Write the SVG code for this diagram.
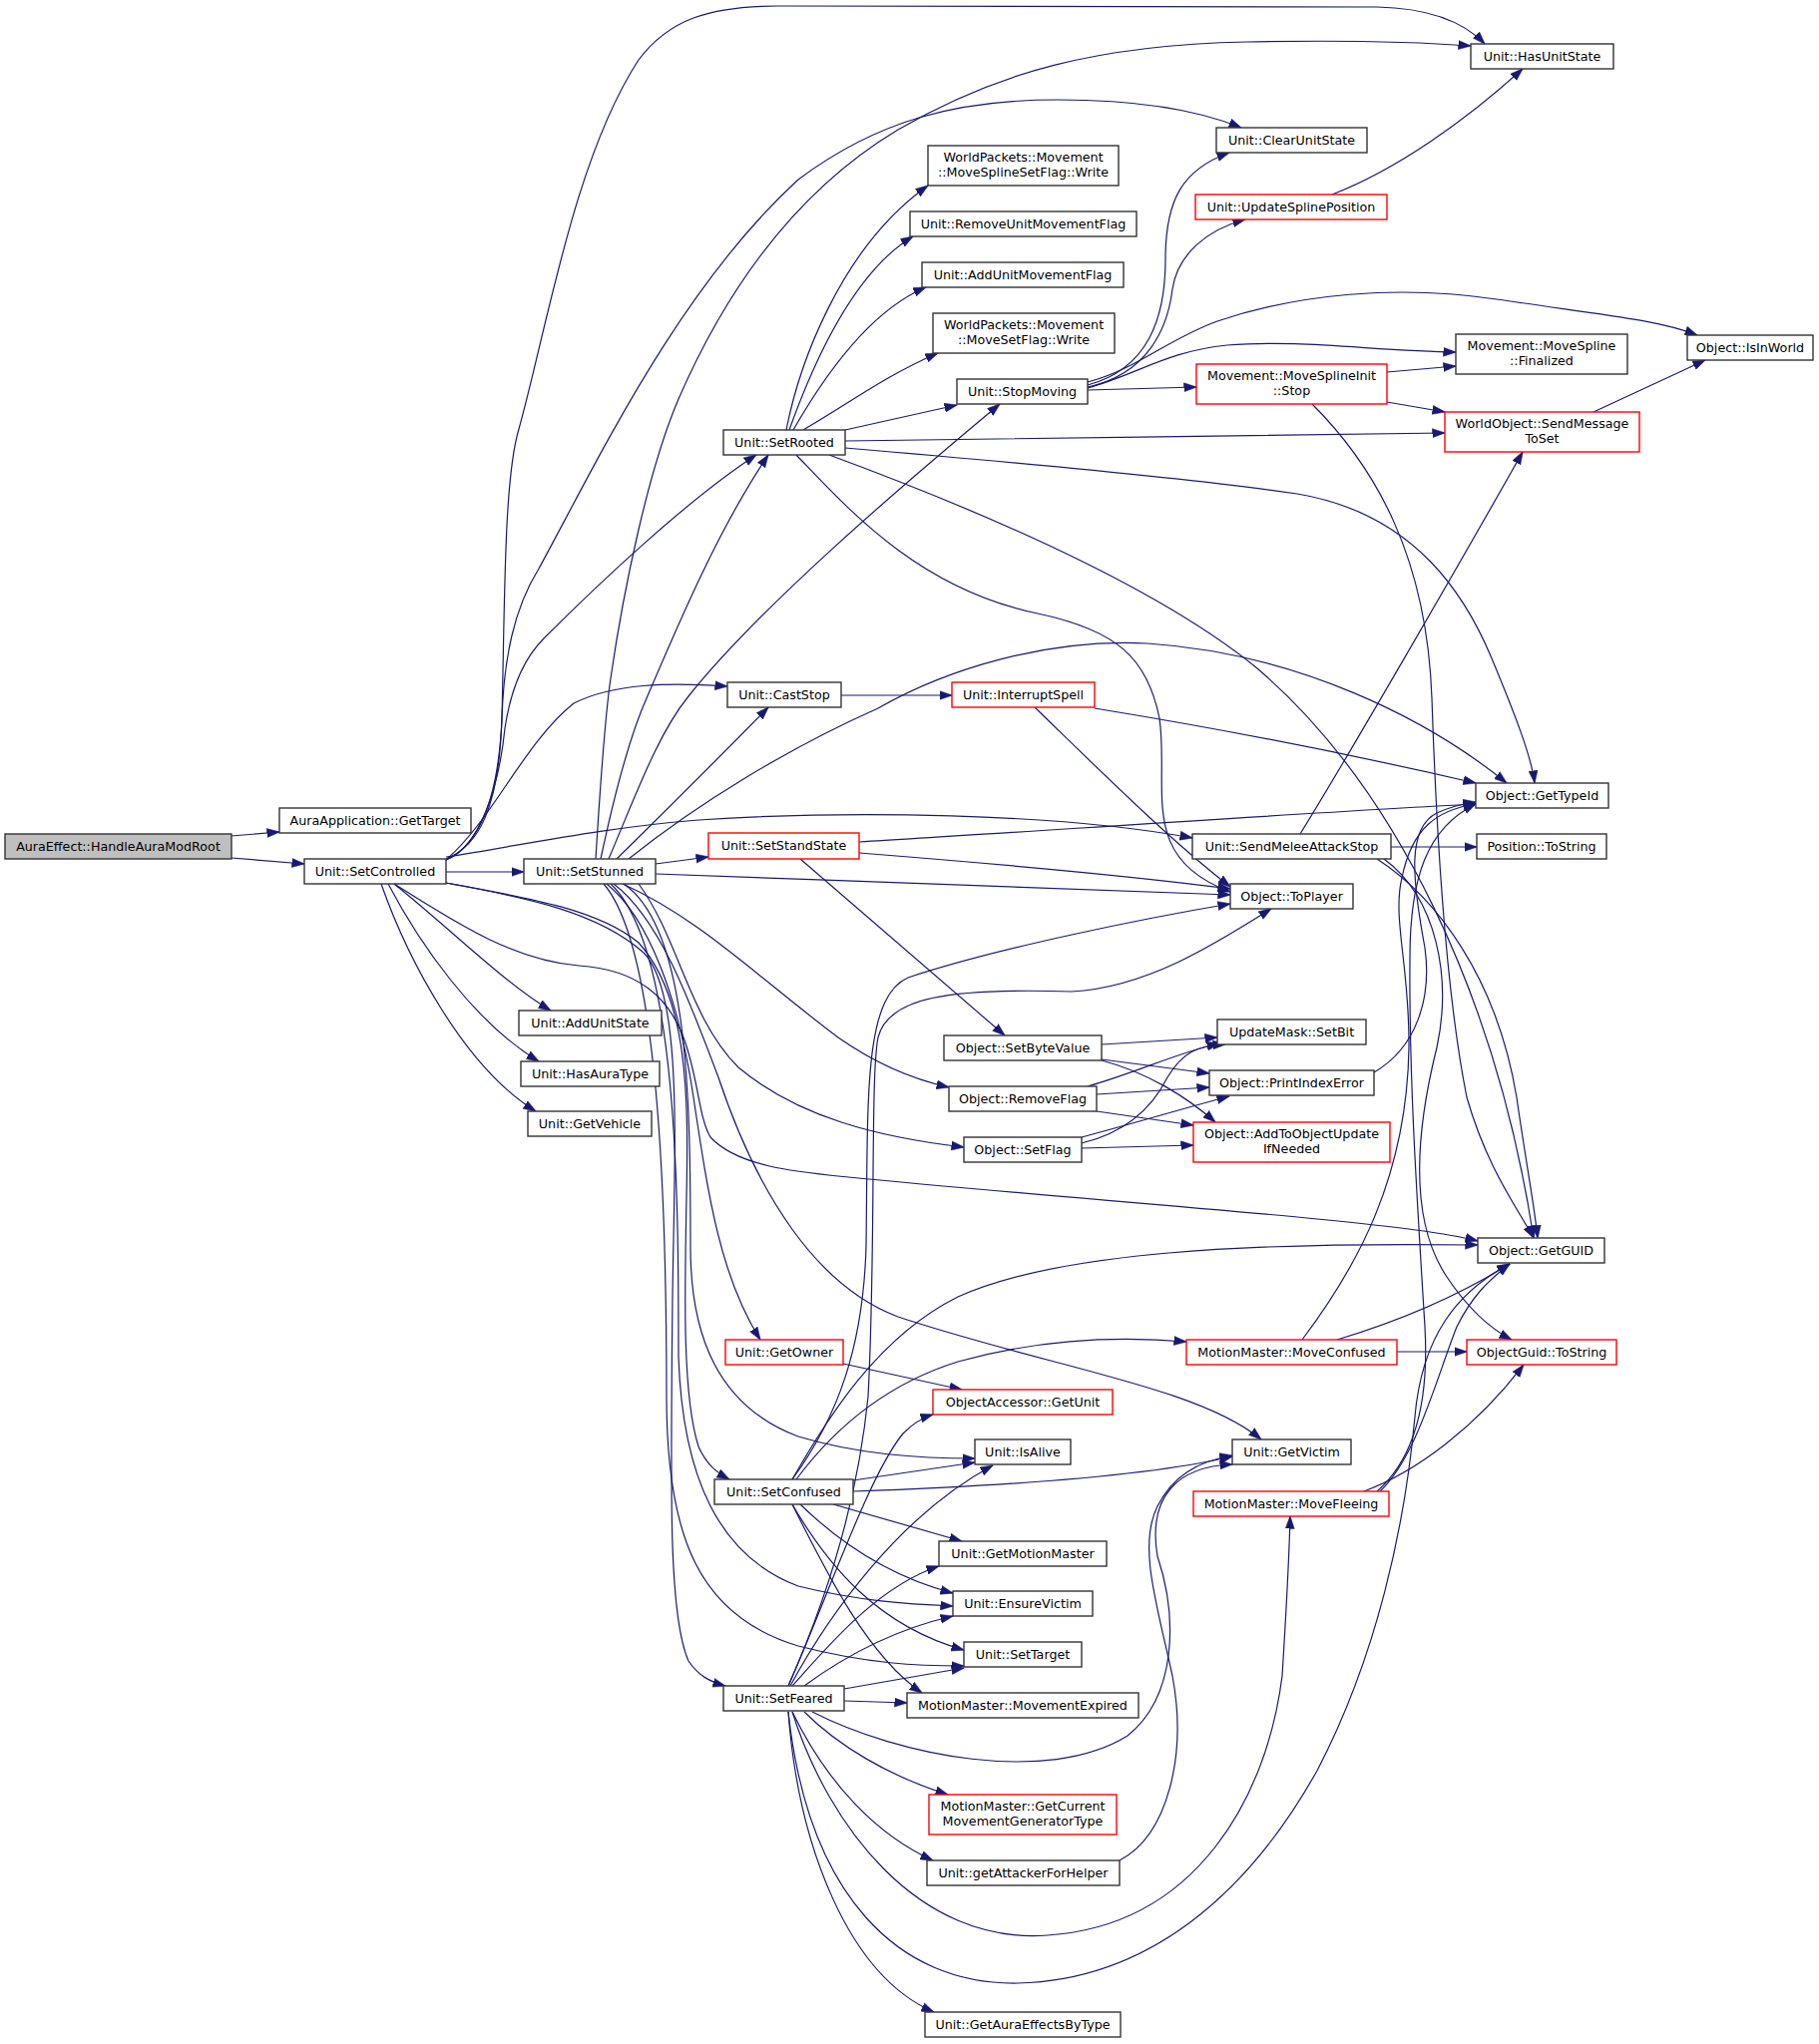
<svg xmlns="http://www.w3.org/2000/svg" width="1823" height="2049" viewBox="0 0 1823 2049">
<defs>
<marker id="a" markerUnits="userSpaceOnUse" markerWidth="13" markerHeight="10" viewBox="0 0 13 10" refX="12.5" refY="5" orient="auto"><path d="M0,0.5 L13,5 L0,9.5 z" fill="#191970" stroke="#191970" stroke-width="0.5"/></marker>
<style>
.n rect{fill:#ffffff;stroke:#333333;stroke-width:1.4}
.r rect{fill:#ffffff;stroke:#ff0000;stroke-width:1.4}
.g rect{fill:#bfbfbf;stroke:#333333;stroke-width:1.4}
text{font-family:"DejaVu Sans","Liberation Sans",sans-serif;font-size:12.7px;text-anchor:middle;fill:#000000}
#edges path{fill:none;stroke:#191970;stroke-width:1.2;marker-end:url(#a)}
</style>
</defs>
<rect x="0" y="0" width="1823" height="2049" fill="#ffffff"/>
<g id="edges">
<path d="M232,838 L280,834"/>
<path d="M232,860 L305,866"/>
<path d="M447,874 L525,874"/>
<path d="M395,886 C450,930 505,985 552,1013"/>
<path d="M389,886 C420,945 475,1025 540,1064"/>
<path d="M382,886 C408,960 465,1070 537,1114"/>
<path d="M447,861 C480,848 500,810 503,720 C506,600 505,480 520,430 C548,330 575,160 640,60 C670,20 710,6 780,6 L1380,7 C1430,8 1465,20 1488,44"/>
<path d="M447,862 C485,845 500,790 503,720 C505,660 515,610 540,570 C600,460 680,290 800,180 C880,120 960,100 1060,100 C1130,100 1195,108 1244,128"/>
<path d="M447,862 C480,850 500,790 506,730 C512,690 525,660 545,640 C600,585 690,500 758,456"/>
<path d="M447,862 C495,820 525,745 575,705 C615,685 670,684 729,688"/>
<path d="M447,859 C520,848 600,830 700,822 C850,812 1060,815 1195,840"/>
<path d="M447,885 C530,900 600,912 640,945 C690,1000 690,1100 688,1200 C686,1300 684,1400 700,1450 C708,1468 718,1476 731,1483"/>
<path d="M447,885 C530,900 600,915 645,955 C685,995 676,1150 674,1300 C672,1500 670,1620 690,1665 C700,1680 712,1686 727,1690"/>
<path d="M395,886 C450,920 510,962 580,968 C640,972 670,1000 685,1040 C700,1080 700,1120 712,1140 C740,1170 800,1175 850,1180 C1000,1195 1200,1210 1320,1222 C1400,1230 1450,1236 1481,1244"/>
<path d="M597,861 C602,780 606,720 612,680 C625,590 650,470 680,400 C730,285 800,190 900,130 C1000,72 1100,45 1250,42 C1350,40 1420,42 1474,46"/>
<path d="M602,861 C615,800 630,740 648,700 C680,625 720,530 770,456"/>
<path d="M610,861 C640,790 660,735 690,698 C760,610 900,490 1002,405"/>
<path d="M618,861 C670,810 720,760 770,709"/>
<path d="M630,861 C700,805 790,750 880,710 C950,670 1050,640 1150,645 C1300,655 1430,720 1510,785"/>
<path d="M657,866 L710,859"/>
<path d="M657,876 C850,883 1050,890 1233,897"/>
<path d="M624,886 C700,920 760,980 840,1040 C880,1068 915,1082 951,1090"/>
<path d="M640,886 C680,940 690,1020 740,1070 C800,1120 880,1140 966,1150"/>
<path d="M608,886 C650,920 680,1000 695,1100 C710,1200 722,1280 762,1343"/>
<path d="M625,886 C690,930 692,1100 692,1250 C692,1340 720,1410 800,1440 C860,1458 920,1462 977,1462"/>
<path d="M612,886 C680,950 680,1200 680,1360 C684,1480 720,1560 800,1590 C860,1605 910,1608 955,1610"/>
<path d="M605,886 C660,950 668,1200 668,1400 C668,1540 700,1620 800,1650 C870,1668 920,1670 966,1670"/>
<path d="M615,886 C660,920 690,1000 720,1080 C760,1200 820,1290 900,1320 C1050,1370 1200,1390 1264,1443"/>
<path d="M788,431 C800,370 840,250 930,186"/>
<path d="M791,431 C820,350 860,270 915,237"/>
<path d="M795,431 C830,370 875,310 928,288"/>
<path d="M805,431 C850,405 890,375 940,354"/>
<path d="M847,431 L959,406"/>
<path d="M847,442 C1000,440 1300,436 1448,434"/>
<path d="M847,449 C1000,462 1200,480 1300,495 C1420,515 1470,600 1495,660 C1520,720 1535,760 1538,785"/>
<path d="M798,456 C850,510 920,590 1040,615 C1120,632 1150,660 1162,720 C1172,790 1140,860 1233,894"/>
<path d="M831,456 C950,500 1150,580 1260,670 C1400,790 1500,1000 1537,1241"/>
<path d="M1090,386 C1150,370 1168,320 1168,260 C1168,200 1185,170 1232,153"/>
<path d="M1090,388 C1150,375 1170,330 1175,290 C1180,255 1210,230 1248,220"/>
<path d="M1090,383 C1140,370 1170,340 1220,322 C1300,295 1400,285 1500,300 C1600,315 1660,320 1701,336"/>
<path d="M1090,389 C1140,375 1170,352 1230,346 C1300,340 1380,352 1459,353"/>
<path d="M1090,391 L1199,388"/>
<path d="M1390,373 L1459,367"/>
<path d="M1390,403 L1448,413"/>
<path d="M1315,405 C1380,470 1430,560 1435,700 C1440,850 1450,1000 1470,1100 C1490,1170 1520,1210 1537,1241"/>
<path d="M1335,195 C1400,170 1470,120 1526,69"/>
<path d="M1597,413 L1709,361"/>
<path d="M843,697 L954,697"/>
<path d="M1097,710 C1250,735 1380,762 1479,785"/>
<path d="M1037,709 C1100,770 1170,840 1233,889"/>
<path d="M861,844 C1000,836 1300,815 1479,806"/>
<path d="M861,855 C1000,866 1150,880 1233,891"/>
<path d="M802,861 L1007,1038"/>
<path d="M1394,849 L1480,849"/>
<path d="M1303,836 C1350,760 1460,570 1526,453"/>
<path d="M1380,861 C1440,900 1500,980 1520,1100 C1530,1170 1538,1210 1541,1241"/>
<path d="M1387,861 C1440,900 1455,980 1440,1050 C1420,1130 1410,1220 1450,1280 C1470,1310 1490,1330 1515,1343"/>
<path d="M1104,1047 L1220,1040"/>
<path d="M1104,1062 L1212,1076"/>
<path d="M1104,1063 C1150,1075 1190,1100 1218,1125"/>
<path d="M1090,1089 C1140,1075 1180,1055 1222,1046"/>
<path d="M1099,1097 L1212,1090"/>
<path d="M1099,1114 L1196,1128"/>
<path d="M1084,1146 C1130,1135 1155,1110 1170,1080 C1185,1055 1200,1048 1228,1047"/>
<path d="M1084,1140 C1140,1125 1190,1110 1232,1099"/>
<path d="M1084,1151 L1196,1148"/>
<path d="M1377,1075 C1420,1050 1435,1000 1428,950 C1415,880 1410,830 1440,815 C1455,808 1465,806 1479,804"/>
<path d="M845,1367 L964,1393"/>
<path d="M794,1508 C830,1570 880,1630 966,1654"/>
<path d="M835,1508 L964,1545"/>
<path d="M798,1483 C830,1440 880,1390 960,1365 C1050,1340 1130,1340 1189,1345"/>
<path d="M855,1484 L977,1466"/>
<path d="M794,1508 C830,1580 870,1660 924,1697"/>
<path d="M855,1495 C1000,1490 1150,1480 1235,1460"/>
<path d="M802,1508 C840,1545 890,1580 955,1597"/>
<path d="M794,1483 C830,1420 880,1340 960,1300 C1060,1255 1250,1245 1481,1248"/>
<path d="M794,1483 C840,1420 865,1350 868,1250 C870,1100 865,1000 910,980 C1000,950 1150,920 1233,906"/>
<path d="M846,1693 L966,1672"/>
<path d="M846,1705 L909,1707"/>
<path d="M806,1690 C840,1665 890,1635 955,1620"/>
<path d="M794,1690 C830,1650 880,1590 941,1570"/>
<path d="M792,1690 C830,1620 900,1520 995,1469"/>
<path d="M790,1690 C830,1600 870,1480 905,1437 C915,1427 925,1421 935,1418"/>
<path d="M806,1716 C840,1750 890,1780 950,1799"/>
<path d="M794,1716 C830,1790 880,1840 935,1865"/>
<path d="M790,1716 C800,1850 850,1980 936,2017"/>
<path d="M814,1716 C900,1760 1050,1790 1130,1740 C1180,1700 1180,1620 1160,1560 C1150,1500 1180,1470 1235,1468"/>
<path d="M794,1716 C830,1830 920,1950 1050,1940 C1200,1930 1270,1800 1285,1680 C1290,1600 1292,1560 1293,1520"/>
<path d="M790,1716 C810,1900 900,1990 1020,1988 C1150,1985 1250,1900 1320,1775 C1380,1660 1408,1530 1418,1420 C1425,1340 1460,1295 1513,1267"/>
<path d="M790,1690 C830,1600 860,1500 870,1400 C878,1250 872,1080 880,1040 C890,1000 950,990 1074,994 C1150,990 1220,945 1274,911"/>
<path d="M1122,1865 C1170,1840 1190,1760 1175,1680 C1160,1610 1140,1550 1160,1510 C1175,1480 1200,1465 1235,1459"/>
<path d="M1305,1343 C1360,1270 1410,1180 1412,1050 C1413,970 1395,920 1405,880 C1415,830 1440,812 1479,806"/>
<path d="M1340,1343 C1400,1325 1460,1300 1513,1267"/>
<path d="M1400,1355 L1470,1355"/>
<path d="M1380,1495 C1420,1460 1432,1400 1428,1330 C1420,1200 1412,1080 1413,960 C1413,880 1430,830 1479,806"/>
<path d="M1383,1495 C1420,1460 1440,1380 1460,1330 C1475,1300 1490,1285 1513,1267"/>
<path d="M1367,1495 C1420,1475 1480,1430 1527,1368"/>
</g>
<g id="n1" class="g"><rect x="5" y="836" width="227" height="25"/><text x="118.5" y="853">AuraEffect::HandleAuraModRoot</text></g>
<g id="n2" class="n"><rect x="280" y="810" width="192" height="25"/><text x="376" y="827">AuraApplication::GetTarget</text></g>
<g id="n3" class="n"><rect x="305" y="861" width="142" height="25"/><text x="376" y="878">Unit::SetControlled</text></g>
<g id="n4" class="n"><rect x="525" y="861" width="132" height="25"/><text x="591" y="878">Unit::SetStunned</text></g>
<g id="n5" class="n"><rect x="520" y="1013" width="143" height="25"/><text x="591.5" y="1030">Unit::AddUnitState</text></g>
<g id="n6" class="n"><rect x="522" y="1064" width="139" height="25"/><text x="591.5" y="1081">Unit::HasAuraType</text></g>
<g id="n7" class="n"><rect x="529" y="1114" width="124" height="25"/><text x="591" y="1131">Unit::GetVehicle</text></g>
<g id="n8" class="n"><rect x="930" y="146" width="191" height="40"/><text x="1025.5" y="162">WorldPackets::Movement</text><text x="1025.5" y="177">::MoveSplineSetFlag::Write</text></g>
<g id="n9" class="n"><rect x="912" y="212" width="227" height="25"/><text x="1025.5" y="229">Unit::RemoveUnitMovementFlag</text></g>
<g id="n10" class="n"><rect x="924" y="263" width="202" height="25"/><text x="1025" y="280">Unit::AddUnitMovementFlag</text></g>
<g id="n11" class="n"><rect x="935" y="314" width="182" height="40"/><text x="1026" y="330">WorldPackets::Movement</text><text x="1026" y="345">::MoveSetFlag::Write</text></g>
<g id="n12" class="n"><rect x="959" y="380" width="131" height="25"/><text x="1024.5" y="397">Unit::StopMoving</text></g>
<g id="n13" class="n"><rect x="725" y="431" width="122" height="25"/><text x="786" y="448">Unit::SetRooted</text></g>
<g id="n14" class="n"><rect x="729" y="684" width="114" height="25"/><text x="786" y="701">Unit::CastStop</text></g>
<g id="n15" class="r"><rect x="954" y="684" width="143" height="25"/><text x="1025.5" y="701">Unit::InterruptSpell</text></g>
<g id="n16" class="r"><rect x="1199" y="365" width="191" height="40"/><text x="1294.5" y="381">Movement::MoveSplineInit</text><text x="1294.5" y="396">::Stop</text></g>
<g id="n17" class="r"><rect x="1198" y="195" width="192" height="25"/><text x="1294" y="212">Unit::UpdateSplinePosition</text></g>
<g id="n18" class="n"><rect x="1219" y="128" width="151" height="25"/><text x="1294.5" y="145">Unit::ClearUnitState</text></g>
<g id="n19" class="n"><rect x="1474" y="44" width="143" height="25"/><text x="1545.5" y="61">Unit::HasUnitState</text></g>
<g id="n20" class="n"><rect x="1459" y="335" width="172" height="40"/><text x="1545" y="351">Movement::MoveSpline</text><text x="1545" y="366">::Finalized</text></g>
<g id="n21" class="n"><rect x="1691" y="336" width="126" height="25"/><text x="1754" y="353">Object::IsInWorld</text></g>
<g id="n22" class="r"><rect x="1448" y="413" width="195" height="40"/><text x="1545.5" y="429">WorldObject::SendMessage</text><text x="1545.5" y="444">ToSet</text></g>
<g id="n23" class="r"><rect x="710" y="835" width="151" height="26"/><text x="785.5" y="852">Unit::SetStandState</text></g>
<g id="n24" class="n"><rect x="1195" y="836" width="199" height="25"/><text x="1294.5" y="853">Unit::SendMeleeAttackStop</text></g>
<g id="n25" class="n"><rect x="946" y="1038" width="158" height="25"/><text x="1025" y="1055">Object::SetByteValue</text></g>
<g id="n26" class="n"><rect x="951" y="1089" width="148" height="25"/><text x="1025" y="1106">Object::RemoveFlag</text></g>
<g id="n27" class="n"><rect x="966" y="1140" width="118" height="25"/><text x="1025" y="1157">Object::SetFlag</text></g>
<g id="n28" class="r"><rect x="727" y="1343" width="118" height="25"/><text x="786" y="1360">Unit::GetOwner</text></g>
<g id="n29" class="r"><rect x="1189" y="1343" width="211" height="25"/><text x="1294.5" y="1360">MotionMaster::MoveConfused</text></g>
<g id="n30" class="n"><rect x="1479" y="785" width="133" height="25"/><text x="1545.5" y="802">Object::GetTypeId</text></g>
<g id="n31" class="n"><rect x="1480" y="836" width="130" height="25"/><text x="1545" y="853">Position::ToString</text></g>
<g id="n32" class="n"><rect x="1233" y="886" width="123" height="25"/><text x="1294.5" y="903">Object::ToPlayer</text></g>
<g id="n33" class="n"><rect x="1220" y="1022" width="149" height="25"/><text x="1294.5" y="1039">UpdateMask::SetBit</text></g>
<g id="n34" class="n"><rect x="1212" y="1073" width="165" height="25"/><text x="1294.5" y="1090">Object::PrintIndexError</text></g>
<g id="n35" class="r"><rect x="1196" y="1125" width="197" height="40"/><text x="1294.5" y="1141">Object::AddToObjectUpdate</text><text x="1294.5" y="1156">IfNeeded</text></g>
<g id="n36" class="n"><rect x="1481" y="1241" width="127" height="25"/><text x="1544.5" y="1258">Object::GetGUID</text></g>
<g id="n37" class="r"><rect x="1470" y="1343" width="150" height="25"/><text x="1545" y="1360">ObjectGuid::ToString</text></g>
<g id="n38" class="r"><rect x="935" y="1393" width="180" height="25"/><text x="1025" y="1410">ObjectAccessor::GetUnit</text></g>
<g id="n39" class="n"><rect x="977" y="1443" width="96" height="25"/><text x="1025" y="1460">Unit::IsAlive</text></g>
<g id="n40" class="n"><rect x="716" y="1483" width="139" height="25"/><text x="785.5" y="1500">Unit::SetConfused</text></g>
<g id="n41" class="n"><rect x="941" y="1545" width="168" height="25"/><text x="1025" y="1562">Unit::GetMotionMaster</text></g>
<g id="n42" class="n"><rect x="955" y="1595" width="140" height="25"/><text x="1025" y="1612">Unit::EnsureVictim</text></g>
<g id="n43" class="n"><rect x="966" y="1646" width="118" height="25"/><text x="1025" y="1663">Unit::SetTarget</text></g>
<g id="n44" class="n"><rect x="725" y="1690" width="121" height="25"/><text x="785.5" y="1707">Unit::SetFeared</text></g>
<g id="n45" class="n"><rect x="909" y="1697" width="232" height="25"/><text x="1025" y="1714">MotionMaster::MovementExpired</text></g>
<g id="n46" class="r"><rect x="931" y="1799" width="188" height="40"/><text x="1025" y="1815">MotionMaster::GetCurrent</text><text x="1025" y="1830">MovementGeneratorType</text></g>
<g id="n47" class="n"><rect x="929" y="1865" width="193" height="25"/><text x="1025.5" y="1882">Unit::getAttackerForHelper</text></g>
<g id="n48" class="n"><rect x="927" y="2017" width="196" height="25"/><text x="1025" y="2034">Unit::GetAuraEffectsByType</text></g>
<g id="n49" class="n"><rect x="1235" y="1443" width="119" height="25"/><text x="1294.5" y="1460">Unit::GetVictim</text></g>
<g id="n50" class="r"><rect x="1196" y="1495" width="196" height="25"/><text x="1294" y="1512">MotionMaster::MoveFleeing</text></g>
</svg>
